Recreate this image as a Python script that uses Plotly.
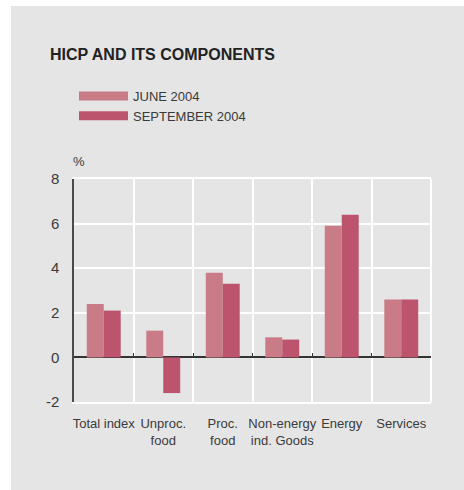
import plotly.graph_objects as go

# HICP components, annual % changes
categories = ["Total index", "Unproc.<br>food", "Proc.<br>food",
              "Non-energy<br>ind. Goods", "Energy", "Services"]
june_2004 = [2.4, 1.2, 3.8, 0.9, 5.9, 2.6]
sept_2004 = [2.1, -1.6, 3.3, 0.8, 6.4, 2.6]
series_names = ["JUNE 2004", "SEPTEMBER 2004"]
y_ticks = [-2, 0, 2, 4, 6, 8]
y_tick_text = ["-2", "0", "2", "4", "6", "8"]
y_range = [-2, 8]

W, H = 464, 490
L, R, T, B = 74, 33, 179, 88
plot_w, plot_h = W - L - R, H - T - B

def px_x(px):
    return (px - L) / plot_w

def px_y(py):
    return (H - B - py) / plot_h

col_june = "#c97c88"
col_sept = "#bc546e"
bg = "#e5e5e5"
text_col = "#3a3a3a"
font = "Liberation Sans, Arial, sans-serif"

fig = go.Figure()
fig.add_trace(go.Bar(x=categories, y=june_2004, marker_color=col_june,
                     marker_line_width=0, showlegend=False))
fig.add_trace(go.Bar(x=categories, y=sept_2004, marker_color=col_sept,
                     marker_line_width=0, showlegend=False))

# legend entries drawn as thick line swatches
for name, c in zip(series_names, [col_june, col_sept]):
    fig.add_trace(go.Scatter(x=[None], y=[None], mode="lines", name=name,
                             line=dict(color=c, width=9), xaxis="x2"))

zero_pos = (0 - y_range[0]) / (y_range[1] - y_range[0])

fig.update_layout(
    width=W, height=H,
    margin=dict(l=L, r=R, t=T, b=B, pad=0),
    paper_bgcolor="white",
    plot_bgcolor=bg,
    barmode="group", bargap=0.43, bargroupgap=0,
    font=dict(family=font, size=13, color=text_col),
    xaxis=dict(type="category", tickson="boundaries", showgrid=True,
               gridcolor="white", gridwidth=2, ticks="", showline=True,
               linecolor="white", linewidth=2, mirror=True,
               zeroline=False, tickangle=0, ticklabelstandoff=8,
               tickfont=dict(size=13, color=text_col),
               range=[-0.5, len(categories) - 0.5]),
    xaxis2=dict(type="category", overlaying="x", anchor="free",
                position=zero_pos, tickson="boundaries", ticks="inside",
                ticklen=4, tickcolor="#333", tickwidth=1, showticklabels=False,
                showgrid=False, showline=False, zeroline=False,
                categoryarray=categories, categoryorder="array",
                range=[-0.5, len(categories) - 0.5]),
    yaxis=dict(range=y_range, tickvals=y_ticks, ticktext=y_tick_text,
               showgrid=True, gridcolor="white", gridwidth=2, zeroline=True,
               zerolinecolor="#333", zerolinewidth=1.5, showline=True,
               linecolor="#4a4a4a", linewidth=1.5, ticks="",
               ticklabelstandoff=10,
               tickfont=dict(size=15, color=text_col)),
    legend=dict(x=px_x(74), y=px_y(81), xanchor="left", yanchor="top",
                bgcolor="rgba(0,0,0,0)", itemwidth=49,
                font=dict(size=13, color=text_col), tracegroupgap=0),
    shapes=[
        dict(type="rect", xref="paper", yref="paper", layer="below",
             x0=px_x(11), x1=px_x(W + 2), y0=px_y(H + 2), y1=px_y(6),
             fillcolor=bg, line_width=0),
        # white frame edge on the right of the plot area
        dict(type="line", xref="paper", yref="paper", layer="below",
             x0=1, x1=1, y0=0, y1=1, line=dict(color="white", width=2)),
    ],
    annotations=[
        dict(text="<b>HICP AND ITS COMPONENTS</b>", xref="paper", yref="paper",
             x=px_x(48), y=px_y(55), xanchor="left", yanchor="middle",
             showarrow=False, font=dict(size=16, color="#222")),
        dict(text="%", xref="paper", yref="paper", x=px_x(71), y=px_y(161),
             xanchor="left", yanchor="middle", showarrow=False,
             font=dict(size=13, color=text_col)),
    ],
)

fig.write_html("out.html")
